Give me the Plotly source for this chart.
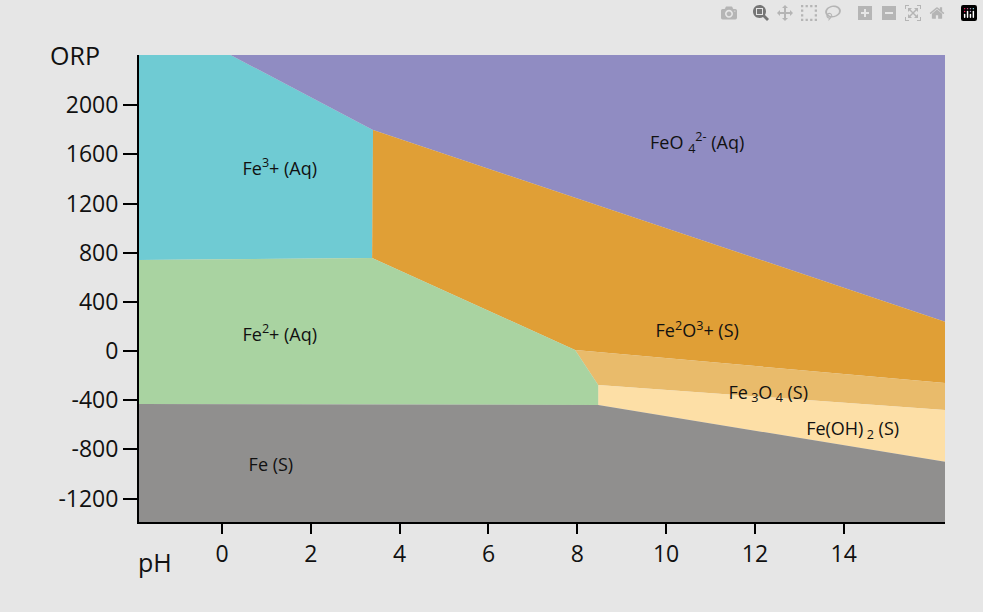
import plotly.graph_objects as go

# Region polygons (pH, ORP mV)
regions = {
    "Fe3+": ([-1.87, 0.18, 3.40, 3.38, -1.87], [2410, 2410, 1798, 757, 740], "#6fcbd3"),
    "FeO4": ([0.18, 16.3, 16.3, 3.40], [2410, 2410, 236, 1798], "#908cc2"),
    "Fe2O3": ([3.40, 16.3, 16.3, 7.95, 3.38], [1798, 236, -260, 8, 757], "#e09f36"),
    "Fe3O4": ([7.95, 16.3, 16.3, 8.47], [8, -260, -480, -277], "#e9bb6b"),
    "FeOH2": ([8.47, 16.3, 16.3, 8.47], [-277, -480, -903, -439], "#fddfa6"),
    "Fe2+": ([-1.87, 3.38, 7.95, 8.47, 8.47, -1.87], [740, 757, 8, -277, -439, -431], "#a9d3a1"),
    "Fe": ([-1.87, 8.47, 16.3, 16.3, -1.87], [-431, -439, -903, -1400, -1400], "#908f8e"),
}
label_x = [1.3, 10.7, 10.7, 1.3, 12.3, 14.2, 1.1]
label_y = [1470, 1680, 150, 120, -350, -650, -940]
label_text = ["Fe<sup>3</sup>+ (Aq)", "FeO <sub>4</sub><sup>2-</sup> (Aq)", "Fe<sup>2</sup>O<sup>3</sup>+ (S)",
              "Fe<sup>2</sup>+ (Aq)", "Fe<sub> 3</sub>O<sub> 4</sub> (S)", "Fe(OH)<sub> 2</sub> (S)", "Fe (S)"]
x_ticks = [0, 2, 4, 6, 8, 10, 12, 14]
y_ticks = [2000, 1600, 1200, 800, 400, 0, -400, -800, -1200]
y_ticktext = ["2000", "1600", "1200", "800", "400", "0", "-400", "-800", "-1200"]

fig = go.Figure()
for name, (xs, ys, c) in regions.items():
    fig.add_trace(go.Scatter(x=xs, y=ys, fill="toself", fillcolor=c, mode="lines",
                             line=dict(width=0, color=c), hoverinfo="skip", showlegend=False))
fig.add_trace(go.Scatter(x=label_x, y=label_y, text=label_text, mode="text",
                         textfont=dict(size=18, color="#111", family="Open Sans"), showlegend=False))
fig.update_layout(
    width=983, height=612, paper_bgcolor="#e6e6e6", plot_bgcolor="#e6e6e6",
    margin=dict(l=139, r=38, t=55, b=90), font=dict(family="Open Sans", color="#111"),
    xaxis=dict(range=[-1.87, 16.28], tickvals=x_ticks, ticks="outside", ticklen=10, tickwidth=2,
               showline=True, linecolor="black", linewidth=2, showgrid=False, zeroline=False,
               tickfont=dict(size=23), tickcolor="black"),
    yaxis=dict(range=[-1391, 2408], tickvals=y_ticks, ticktext=y_ticktext, ticks="outside",
               ticklen=14, tickwidth=2, showline=True, linecolor="black", linewidth=2,
               showgrid=False, zeroline=False, tickfont=dict(size=23), tickcolor="black",
               ticklabelstandoff=0),
    annotations=[
        dict(text="ORP", x=-0.08, y=1.0, xref="paper", yref="paper", showarrow=False,
             font=dict(size=25), xanchor="center", yanchor="middle"),
        dict(text="pH", x=0.02, y=-0.085, xref="paper", yref="paper", showarrow=False,
             font=dict(size=25), xanchor="center", yanchor="middle"),
    ],
)
fig.write_html("out.html")
with open("out.html", encoding="utf-8") as f:
    html = f.read()
html = html.replace("<head>", "<head><style>html,body{margin:0;padding:0;background:#e6e6e6}</style>", 1)
with open("out.html", "w", encoding="utf-8") as f:
    f.write(html)
